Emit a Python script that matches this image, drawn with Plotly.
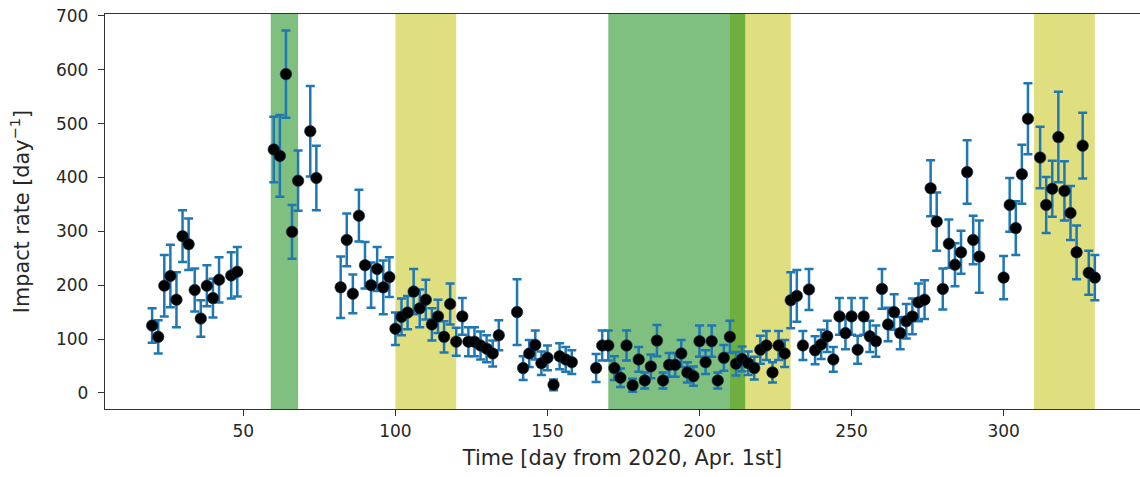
import plotly.graph_objects as go

# Observation day (days from 2020 Apr. 1st)
days = [20, 22, 24, 26, 28, 30, 32, 34, 36, 38, 40, 42, 46, 48,
        60, 62, 64, 66, 68, 72, 74,
        82, 84, 86, 88, 90, 92, 94, 96, 98,
        100, 102, 104, 106, 108, 110, 112, 114, 116, 118,
        120, 122, 124, 126, 128, 130, 132, 134,
        140, 142, 144, 146, 148, 150, 152, 154, 156, 158,
        166, 168, 170, 172, 174, 176, 178, 180, 182, 184, 186, 188,
        190, 192, 194, 196, 198, 200, 202, 204, 206, 208,
        210, 212, 214, 216, 218, 220, 222, 224, 226, 228,
        230, 232, 234, 236, 238, 240, 242, 244, 246, 248,
        250, 252, 254, 256, 258, 260, 262, 264, 266, 268,
        270, 272, 274, 276, 278, 280, 282, 284, 286, 288,
        290, 292, 300, 302, 304, 306, 308,
        312, 314, 316, 318, 320, 322, 324, 326, 328, 330]

# Impact rate [day^-1]
rate = [125, 104, 199, 217, 173, 291, 276, 191, 138, 199, 176, 210, 218, 225,
        452, 440, 592, 299, 394, 486, 399,
        196, 284, 184, 329, 237, 200, 230, 196, 215,
        119, 141, 149, 188, 157, 173, 127, 142, 104, 165,
        95, 142, 95, 95, 88, 82, 73, 107,
        150, 46, 73, 89, 55, 65, 15, 68, 62, 57,
        46, 88, 88, 46, 28, 88, 14, 62, 23, 49, 97, 23,
        52, 52, 73, 38, 31, 96, 57, 96, 23, 65,
        104, 54, 63, 55, 46, 80, 88, 38, 88, 73,
        172, 180, 88, 192, 79, 90, 105, 62, 142, 111,
        142, 80, 142, 105, 96, 193, 127, 150, 111, 133,
        142, 168, 173, 380, 318, 193, 277, 238, 261, 410,
        284, 253, 214, 349, 306, 406, 509,
        437, 349, 379, 475, 375, 334, 261, 459, 223, 214]

# Error bars (1 sigma)
rate_err = [32, 31, 57, 58, 51, 48, 48, 40, 34, 38, 36, 42, 43, 46,
            61, 76, 81, 50, 56, 84, 60,
            57, 49, 36, 48, 43, 42, 41, 50, 37,
            30, 34, 31, 42, 35, 37, 30, 31, 29, 38,
            26, 34, 27, 27, 26, 25, 24, 28,
            61, 22, 25, 27, 22, 23, 10, 24, 23, 22,
            26, 28, 28, 22, 17, 28, 12, 23, 15, 22, 29, 15,
            22, 22, 25, 19, 18, 29, 22, 29, 15, 24,
            30, 22, 23, 22, 21, 26, 27, 19, 27, 25,
            52, 48, 27, 38, 26, 27, 29, 23, 34, 30,
            34, 26, 34, 29, 29, 37, 31, 33, 30, 32,
            33, 35, 36, 52, 54, 38, 45, 40, 40, 59,
            45, 67, 40, 50, 50, 55, 66,
            57, 52, 52, 84, 55, 50, 50, 61, 41, 42]

# Highlighted periods
bands_yellow = [(100, 120), (210, 230), (310, 330)]
bands_green = [(59, 68), (170, 215)]

fig = go.Figure()

fig.add_trace(go.Scatter(
    x=days, y=rate, mode="markers",
    marker=dict(color="black", size=11.5, line=dict(width=0.6, color="#0b2d4a")),
    error_y=dict(type="data", array=rate_err, color="#1f77b4",
                 thickness=2.5, width=4.5),
    showlegend=False,
))

shapes = []
for x0, x1 in bands_yellow:
    shapes.append(dict(type="rect", xref="x", yref="paper", x0=x0, x1=x1,
                       y0=0, y1=1, fillcolor="#bfbf00", opacity=0.5,
                       line=dict(width=0), layer="below"))
for x0, x1 in bands_green:
    shapes.append(dict(type="rect", xref="x", yref="paper", x0=x0, x1=x1,
                       y0=0, y1=1, fillcolor="#008000", opacity=0.5,
                       line=dict(width=0), layer="below"))

font_family = "DejaVu Sans"
txt = "#262626"

fig.update_layout(
    width=1140, height=477,
    margin=dict(l=105, r=0, t=14, b=68),
    paper_bgcolor="white", plot_bgcolor="white",
    font=dict(family=font_family, size=17, color=txt),
    shapes=shapes,
    xaxis=dict(
        range=[4.5, 344.85],
        tickvals=[50, 100, 150, 200, 250, 300],
        ticks="outside", ticklen=6, tickwidth=1.3, tickcolor="#333",
        showline=True, linecolor="#333", linewidth=1.3, mirror=True,
        showgrid=False, zeroline=False,
        title=dict(text="Time [day from 2020, Apr. 1st]", standoff=10,
                   font=dict(size=20.8)),
        tickfont=dict(size=17),
    ),
    yaxis=dict(
        range=[-30, 703.6],
        tickvals=[0, 100, 200, 300, 400, 500, 600, 700],
        ticks="outside", ticklen=6, tickwidth=1.3, tickcolor="#333",
        showline=True, linecolor="#333", linewidth=1.3, mirror=False,
        showgrid=False, zeroline=False,
        ticklabelstandoff=6,
        title=dict(text="Impact rate [day<sup>−1</sup>]", standoff=20,
                   font=dict(size=20.8)),
        tickfont=dict(size=17),
    ),
)

fig.write_html("out.html")
